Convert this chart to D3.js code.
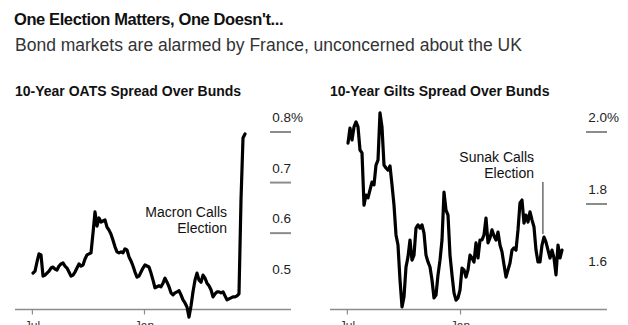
<!DOCTYPE html>
<html>
<head>
<meta charset="utf-8">
<script src="https://cdn.jsdelivr.net/npm/d3@7"></script>
<style>
  html, body { margin: 0; padding: 0; background: #fff; }
  svg { display: block; font-family: "Liberation Sans", Arial, sans-serif; }
</style>
</head>
<body>
<svg id="chart" width="628" height="325"></svg>
<script>
// ---- Data ----
const title = "One Election Matters, One Doesn't...";
const subtitle = "Bond markets are alarmed by France, unconcerned about the UK";

const oatTitle = "10-Year OATS Spread Over Bunds";
const giltTitle = "10-Year Gilts Spread Over Bunds";

const seriesStart = "2023-07-02";
const seriesEnd = "2024-06-14";

// 10-year OAT-Bund spread, %
const oatValues = [
  0.521,0.525,0.543,0.559,0.557,0.515,0.517,0.521,0.525,0.531,
  0.533,0.529,0.527,0.535,0.539,0.541,0.535,0.531,0.523,0.515,
  0.517,0.523,0.531,0.539,0.535,0.537,0.549,0.557,0.559,0.561,
  0.600,0.642,0.614,0.630,0.622,0.624,0.626,0.612,0.606,0.598,
  0.586,
  0.573,0.563,0.561,0.563,0.561,0.569,0.567,0.553,0.545,0.535,
  0.523,0.513,0.515,0.523,0.531,0.537,0.535,0.533,0.521,0.507,
  0.492,0.494,0.496,0.494,0.501,0.511,0.503,0.494,0.482,0.478,
  0.482,0.484,0.486,0.478,0.468,0.462,0.454,0.434,0.456,0.484,
  0.507,0.521,0.507,0.503,0.517,0.511,0.501,0.496,0.488,0.474,
  0.480,0.484,0.484,0.482,0.484,0.476,0.468,0.470,0.472,0.474,
  0.474,0.476,0.480,0.666,0.788,0.796
];

// 10-year Gilt-Bund spread, %
const giltValues = [
  1.969,2.011,1.978,2.014,2.028,2.014,1.950,1.942,1.797,1.825,
  1.817,1.839,1.861,1.853,1.908,1.922,2.053,2.014,1.908,1.900,
  1.894,1.906,1.853,1.797,1.714,1.686,1.589,1.514,1.542,1.625,
  1.653,1.700,1.644,1.658,1.733,1.742,1.733,1.742,1.719,1.658,
  1.639,1.625,1.589,1.539,1.547,1.603,1.644,1.700,1.833,1.783,
  1.769,1.658,1.603,1.553,1.533,1.539,1.561,1.622,1.617,1.597,
  1.617,1.658,1.650,1.639,1.692,1.650,1.700,1.700,1.714,1.761,
  1.692,1.706,1.728,1.711,1.700,1.722,1.686,1.667,1.631,1.597,
  1.617,1.636,1.672,1.678,1.672,1.728,1.803,1.811,1.747,1.769,
  1.750,1.778,1.756,1.736,1.672,1.639,1.639,1.686,1.708,1.694,
  1.672,1.650,1.672,1.650,1.603,1.686,1.650,1.672
];

const xTickDates = ["2023-07-01", "2024-01-01"];
const xTickLabels = ["Jul", "Jan"];

const oatTicks = [0.5, 0.6, 0.7, 0.8];
const oatTickLabels = ["0.5", "0.6", "0.7", "0.8"];
const giltTicks = [1.6, 1.8, 2.0];
const giltTickLabels = ["1.6", "1.8", "2.0"];

const macronLabel = ["Macron Calls", "Election"];
const sunakLabel = ["Sunak Calls", "Election"];
const sunakDate = "2024-05-14";

// ---- Drawing ----
const parse = d3.timeParse("%Y-%m-%d");
const svg = d3.select("#chart");

svg.append("text").attr("x", 14).attr("y", 25)
  .attr("font-size", 16.5).attr("font-weight", "bold").attr("fill", "#111")
  .attr("letter-spacing", -0.4)
  .text(title);
svg.append("text").attr("x", 15).attr("y", 51)
  .attr("font-size", 17.5).attr("fill", "#333")
  .text(subtitle);

function toSeries(values) {
  const s = parse(seriesStart), e = parse(seriesEnd);
  const n = values.length;
  return values.map((v, i) => ({ date: new Date(+s + i * (e - s) / (n - 1)), value: v }));
}

function panel(opts) {
  const g = svg.append("g");
  g.append("text").attr("x", opts.left).attr("y", 96)
    .attr("font-size", 14).attr("font-weight", "bold").attr("fill", "#111")
    .text(opts.title);

  const x = d3.scaleTime().domain([parse(seriesStart), parse(seriesEnd)]).range(opts.xRange);
  const y = d3.scaleLinear().domain(opts.yDomain).range(opts.yRange);

  // baseline
  g.append("line").attr("x1", opts.left).attr("x2", opts.right)
    .attr("y1", opts.bottom).attr("y2", opts.bottom)
    .attr("stroke", "#8c8c8c").attr("stroke-width", 1.5);

  // x axis ticks + labels (cut by the bottom edge, as in the source)
  const xt = g.selectAll(".xt").data(xTickDates).enter().append("g");
  xt.append("line")
    .attr("x1", d => x(parse(d))).attr("x2", d => x(parse(d)))
    .attr("y1", opts.bottom).attr("y2", opts.bottom + 5)
    .attr("stroke", "#8c8c8c").attr("stroke-width", 1.2);
  xt.append("text")
    .attr("x", d => x(parse(d))).attr("y", opts.bottom + 20)
    .attr("text-anchor", "middle").attr("font-size", 12).attr("fill", "#333")
    .text((d, i) => xTickLabels[i]);

  // y ticks at right: label above a short gray dash
  const dashL = opts.right - 21, dashR = opts.right;
  opts.ticks.forEach((t, i) => {
    const yy = y(t);
    if (i > 0) {
      g.append("line").attr("x1", dashL).attr("x2", dashR)
        .attr("y1", yy).attr("y2", yy)
        .attr("stroke", "#8c8c8c").attr("stroke-width", 2);
    }
    g.append("text").attr("x", dashR).attr("y", yy - 10)
      .attr("text-anchor", "end").attr("font-size", 13.5).attr("fill", "#222")
      .text(opts.tickLabels[i]);
    if (i === opts.ticks.length - 1) {
      g.append("text").attr("x", dashR).attr("y", yy - 10)
        .attr("font-size", 13.5).attr("fill", "#222").text("%");
    }
  });

  // annotation
  if (opts.annotDate) {
    const ax = x(parse(opts.annotDate));
    g.append("line").attr("x1", ax).attr("x2", ax)
      .attr("y1", opts.annotLineTop).attr("y2", opts.annotLineBottom)
      .attr("stroke", "#222").attr("stroke-width", 1);
  }
  opts.annotText.forEach((t, i) => {
    g.append("text").attr("x", opts.annotX).attr("y", opts.annotY + i * 16)
      .attr("text-anchor", "end").attr("font-size", 14).attr("fill", "#111")
      .text(t);
  });

  // series
  const line = d3.line().x(d => x(d.date)).y(d => y(d.value));
  g.append("path").datum(toSeries(opts.values))
    .attr("fill", "none").attr("stroke", "#000").attr("stroke-width", 3.2)
    .attr("stroke-linejoin", "round").attr("stroke-linecap", "round")
    .attr("d", line);
}

panel({
  title: oatTitle, left: 15, right: 291, bottom: 309.5,
  xRange: [33, 245], yDomain: [0.45, 0.8], yRange: [309, 132],
  ticks: oatTicks, tickLabels: oatTickLabels, values: oatValues,
  annotText: macronLabel, annotX: 227, annotY: 217
});

panel({
  title: giltTitle, left: 330, right: 607, bottom: 309.5,
  xRange: [348, 562], yDomain: [1.6, 2.0], yRange: [276, 132],
  ticks: giltTicks, tickLabels: giltTickLabels, values: giltValues,
  annotText: sunakLabel, annotX: 534, annotY: 162,
  annotDate: sunakDate, annotLineTop: 182, annotLineBottom: 234
});
</script>
</body>
</html>
